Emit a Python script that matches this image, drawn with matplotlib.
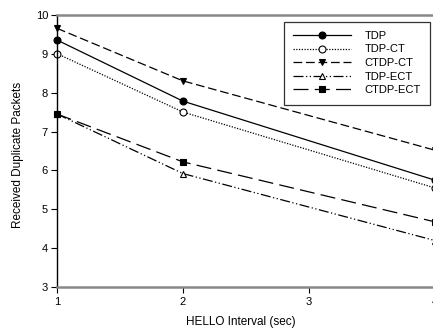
import matplotlib
matplotlib.use("Agg")
import matplotlib.pyplot as plt

plt.rcParams['font.family'] = ['Liberation Sans', 'DejaVu Sans']

hello_interval = [1, 2, 3, 4]
tdp = [9.35, 7.78, None, 5.75]
tdp_ct = [9.0, 7.5, None, 5.55]
ctdp_ct = [9.65, 8.3, None, 6.52]
tdp_ect = [7.45, 5.92, None, 4.2]
ctdp_ect = [7.45, 6.22, None, 4.68]

x_ticks = [1, 2, 3, 4]
y_ticks = [3, 4, 5, 6, 7, 8, 9, 10]


def pts(vals):
    xs = [x for x, v in zip(hello_interval, vals) if v is not None]
    ys = [v for v in vals if v is not None]
    return xs, ys


W, H = 433, 336
fig = plt.figure(figsize=(W / 100, H / 100), dpi=100)
left, right = 57, 435
top, bottom = 14.7, 287.3
ax = fig.add_axes([left / W, 1 - bottom / H, (right - left) / W, (bottom - top) / H])

series = [
    ("TDP", tdp, dict(linestyle='-', marker='o', markerfacecolor='black')),
    ("TDP-CT", tdp_ct, dict(linestyle=(0, (1, 1.2)), marker='o', markerfacecolor='white')),
    ("CTDP-CT", ctdp_ct, dict(linestyle=(0, (7, 3)), marker='v', markerfacecolor='black')),
    ("TDP-ECT", tdp_ect, dict(linestyle=(0, (8, 2, 1, 2, 1, 2)), marker='^', markerfacecolor='white')),
    ("CTDP-ECT", ctdp_ect, dict(linestyle=(0, (12, 5)), marker='s', markerfacecolor='black')),
]

for name, vals, style in series:
    xs, ys = pts(vals)
    ax.plot(xs, ys, color='black', linewidth=0.9, markersize=5,
            markeredgecolor='black', markeredgewidth=0.8, label=name,
            clip_on=False, **style)

ax.set_xlim(1, 4)
ax.set_ylim(3, 10)
ax.set_xticks(x_ticks)
ax.set_yticks(y_ticks)
ax.tick_params(direction='out', length=4, width=0.8, labelsize=8, pad=2.5,
               colors='black')
ax.tick_params(axis='x', pad=3)

for s in ('top', 'bottom'):
    ax.spines[s].set_color('#888888')
    ax.spines[s].set_linewidth(1.8)
ax.spines['left'].set_color('black')
ax.spines['left'].set_linewidth(1.0)
ax.spines['right'].set_visible(False)

ax.set_xlabel("HELLO Interval (sec)", fontsize=8.5)
ax.set_ylabel("Received Duplicate Packets", fontsize=8.5)
ax.xaxis.set_label_coords((241 - left) / (right - left), -(322 - bottom) / (bottom - top),
                          transform=ax.transAxes)
ax.xaxis.label.set_va('center')
ax.yaxis.set_label_coords(-(left - 18) / (right - left), 1 - (155 - top) / (bottom - top),
                          transform=ax.transAxes)
ax.yaxis.label.set_va('center')

leg = ax.legend(loc='upper left',
                bbox_to_anchor=((284 - left) / (right - left), 1 - (21.5 - top) / (bottom - top)),
                fontsize=8, frameon=True, fancybox=False, edgecolor='black',
                handlelength=5.2, handletextpad=1.2, borderpad=0.85,
                labelspacing=0.32, borderaxespad=0)
leg.get_frame().set_linewidth(0.9)

fig.savefig("out.png", dpi=100)
